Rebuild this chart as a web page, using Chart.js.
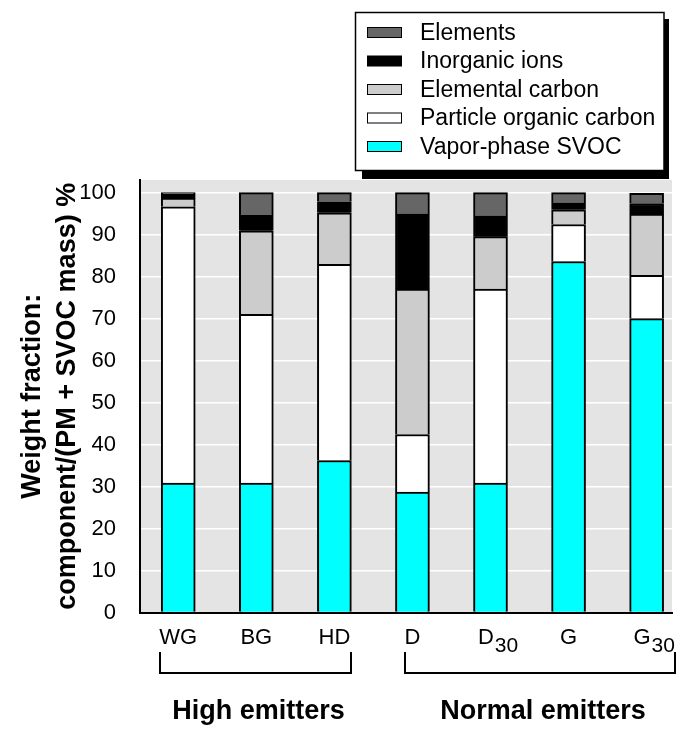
<!DOCTYPE html>
<html>
<head>
<meta charset="utf-8">
<script src="https://cdn.jsdelivr.net/npm/chart.js@4.4.1/dist/chart.umd.min.js"></script>
<style>
  html, body { margin: 0; padding: 0; background: #fff; }
  #wrap { width: 697px; height: 741px; position: relative; }
</style>
</head>
<body>
<div id="wrap"><canvas id="chart"></canvas></div>
<script>
const categories = ['WG', 'BG', 'HD', 'D', 'D', 'G', 'G'];
const subscripts = ['', '', '', '', '30', '', '30'];
const groupNames = ['High emitters', 'Normal emitters'];
const groupFirst = [0, 3];
const groupLast = [2, 6];

// percent of (PM + SVOC mass), bottom segment first
const svoc       = [30.8, 30.8, 36.2, 28.7, 30.8, 83.6, 70.0];
const orgCarbon  = [65.8, 40.2, 46.7, 13.7, 46.2,  8.8, 10.3];
const elemCarbon = [ 2.1, 19.9, 12.3, 34.6, 12.5,  3.5, 14.6];
const ions       = [ 0.9,  3.7,  2.6, 17.9,  4.9,  1.6,  2.5];
const elements   = [ 0.4,  5.4,  2.2,  5.1,  5.6,  2.5,  2.4];
const yTicks = [0, 10, 20, 30, 40, 50, 60, 70, 80, 90, 100];

const SANS = '"Liberation Sans", Arial, sans-serif';

const toPoints = arr => arr.map((v, i) => ({ x: i, y: v }));

const series = [
    { label: 'Vapor-phase SVOC', data: svoc, color: '#00ffff' },
    { label: 'Particle organic carbon', data: orgCarbon, color: '#ffffff' },
    { label: 'Elemental carbon', data: elemCarbon, color: '#cccccc' },
    { label: 'Inorganic ions', data: ions, color: '#000000' },
    { label: 'Elements', data: elements, color: '#666666' },
];

const plotBackground = {
    id: 'plotBackground',
    beforeDraw(chart) {
        const { ctx, chartArea: a } = chart;
        ctx.save();
        ctx.fillStyle = '#e4e4e4';
        ctx.fillRect(a.left, a.top, a.right - a.left, a.bottom - a.top);
        ctx.restore();
    }
};

const boxLegend = {
    id: 'boxLegend',
    afterDraw(chart) {
        const ctx = chart.ctx;
        ctx.save();
        ctx.fillStyle = '#000';
        ctx.fillRect(362, 19, 307, 160);
        ctx.fillStyle = '#fff';
        ctx.fillRect(355.5, 12.5, 308.5, 158);
        ctx.strokeStyle = '#000';
        ctx.lineWidth = 1.5;
        ctx.strokeRect(355.5, 12.5, 308.5, 158);
        ctx.font = '23px ' + SANS;
        ctx.textBaseline = 'middle';
        const ds = chart.data.datasets.slice().reverse();
        ds.forEach((d, i) => {
            const cy = 32.5 + i * 28.5;
            ctx.fillStyle = d.backgroundColor;
            ctx.fillRect(367.5, cy - 5, 34, 10);
            ctx.lineWidth = 1;
            ctx.strokeRect(367.5, cy - 5, 34, 10);
            ctx.fillStyle = '#000';
            ctx.fillText(d.label, 420, cy + 1);
        });
        ctx.restore();
    }
};

const categoryLabels = {
    id: 'categoryLabels',
    afterDraw(chart) {
        const ctx = chart.ctx;
        const xs = chart.scales.x;
        const extents = [];
        ctx.save();
        ctx.fillStyle = '#000';
        ctx.textBaseline = 'alphabetic';
        ctx.textAlign = 'left';
        categories.forEach((c, i) => {
            const cx = xs.getPixelForValue(i);
            ctx.font = '22px ' + SANS;
            const w1 = ctx.measureText(c).width;
            ctx.font = '21px ' + SANS;
            const w2 = subscripts[i] ? ctx.measureText(subscripts[i]).width : 0;
            const x0 = cx - w1 / 2 - w2 * 0.2;
            ctx.font = '22px ' + SANS;
            ctx.fillText(c, x0, 644);
            if (subscripts[i]) {
                ctx.font = '21px ' + SANS;
                ctx.fillText(subscripts[i], x0 + w1 + 1, 652);
            }
            extents.push([x0, x0 + w1 + w2]);
        });

        ctx.strokeStyle = '#000';
        ctx.lineWidth = 2;
        ctx.font = 'bold 27px ' + SANS;
        ctx.textAlign = 'center';
        groupNames.forEach((name, g) => {
            const l = Math.round(extents[groupFirst[g]][0]) + 1;
            const r = Math.round(extents[groupLast[g]][1]) + 1;
            ctx.beginPath();
            ctx.moveTo(l, 652);
            ctx.lineTo(l, 673);
            ctx.lineTo(r, 673);
            ctx.lineTo(r, 652);
            ctx.stroke();
            ctx.fillText(name, (l + r) / 2 + 3, 719);
        });
        ctx.restore();
    }
};

new Chart(document.getElementById('chart'), {
    type: 'bar',
    data: {
        datasets: series.map(s => ({
            label: s.label,
            data: toPoints(s.data),
            backgroundColor: s.color,
            borderColor: '#000',
            borderWidth: 2,
            borderSkipped: 'start',
            barThickness: 34
        }))
    },
    options: {
        responsive: true,
        maintainAspectRatio: false,
        animation: false,
        layout: { padding: { top: 180, right: 25, left: 0, bottom: 0 } },
        plugins: {
            legend: { display: false },
            tooltip: { enabled: false }
        },
        scales: {
            x: {
                type: 'linear',
                stacked: true,
                offset: false,
                min: -0.49,
                max: 6.325,
                grid: { display: false },
                ticks: { display: false },
                border: { display: true, color: '#000', width: 2 },
                afterFit: s => { s.height = 128.5; }
            },
            y: {
                stacked: true,
                min: 0,
                max: 103,
                afterBuildTicks: s => { s.ticks = yTicks.map(v => ({ value: v })); },
                grid: { color: '#ffffff', lineWidth: 1.5, drawTicks: false },
                border: { display: true, color: '#000', width: 2 },
                ticks: {
                    padding: 24,
                    color: '#000',
                    font: { family: SANS, size: 22 }
                },
                title: {
                    display: true,
                    text: ['Weight fraction:', 'component/(PM + SVOC mass) %'],
                    color: '#000',
                    font: { family: SANS, weight: 'bold', size: 27, lineHeight: 1.3 },
                    padding: { top: 15, bottom: 0 }
                },
                afterFit: s => { s.width = 140; }
            }
        }
    },
    plugins: [plotBackground, boxLegend, categoryLabels]
});
</script>
</body>
</html>
